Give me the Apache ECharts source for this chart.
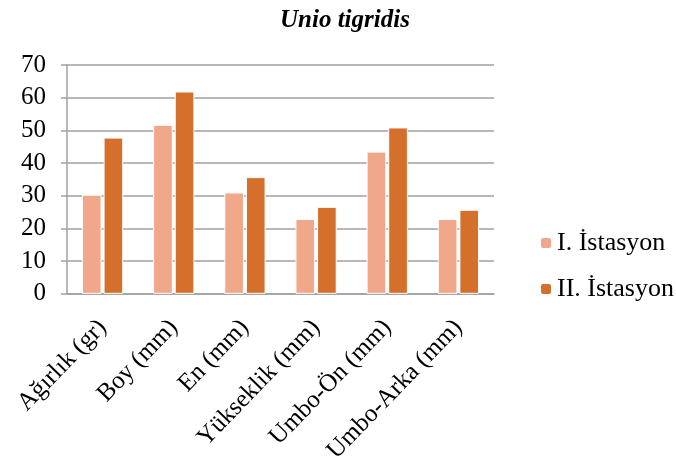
<!DOCTYPE html>
<html><head><meta charset="utf-8">
<script src="https://cdn.jsdelivr.net/npm/echarts@6/dist/echarts.min.js"></script>
<style>html,body{margin:0;padding:0;background:#fff}#c{width:676px;height:466px}</style>
</head><body><div id="c"></div>
<script>
const categories = ['Ağırlık (gr)', 'Boy (mm)', 'En (mm)', 'Yükseklik (mm)', 'Umbo-Ön (mm)', 'Umbo-Arka (mm)'];
const station1 = [30.3, 51.7, 31.0, 22.9, 43.5, 22.9];
const station2 = [47.8, 61.9, 35.7, 26.6, 50.9, 25.7];
const seriesNames = ['I. İstasyon', 'II. İstasyon'];
const yTicks = {min: 0, max: 70, interval: 10};
const font = '"Liberation Serif", "Times New Roman", serif';
const chart = echarts.init(document.getElementById('c'));
chart.setOption({
  animation: false,
  title: {text: 'Unio tigridis', left: 275, top: 3,
    textStyle: {fontFamily: font, fontSize: 25, fontWeight: 'bold', fontStyle: 'italic', color: '#000'}},
  legend: {orient: 'vertical', left: 534, top: 225, itemWidth: 12, itemHeight: 12, itemGap: 20,
    textStyle: {fontFamily: font, fontSize: 26, color: '#000'},
    data: seriesNames},
  grid: {left: 67, right: 182, top: 65, bottom: 171, containLabel: false},
  xAxis: {type: 'category', data: categories,
    axisLine: {lineStyle: {color: '#a0a0a0', width: 1.5}}, axisTick: {show: false},
    axisLabel: {rotate: 46, fontFamily: font, fontSize: 25, color: '#000', margin: 30, interval: 0}},
  yAxis: {type: 'value', min: yTicks.min, max: yTicks.max, interval: yTicks.interval,
    axisLine: {show: true, lineStyle: {color: '#a0a0a0', width: 1.5}},
    axisTick: {show: true, length: 6, lineStyle: {color: '#a0a0a0', width: 1.5}},
    splitLine: {lineStyle: {color: '#a0a0a0', width: 1.5}},
    axisLabel: {fontFamily: font, fontSize: 25, color: '#000', margin: 21}},
  series: [
    {name: seriesNames[0], type: 'bar', data: station1, barGap: '10%', barCategoryGap: '42%',
      itemStyle: {color: '#F1A88A', borderColor: '#fff', borderWidth: 1}},
    {name: seriesNames[1], type: 'bar', data: station2,
      itemStyle: {color: '#D4702B', borderColor: '#fff', borderWidth: 1}}
  ]
});
</script></body></html>
